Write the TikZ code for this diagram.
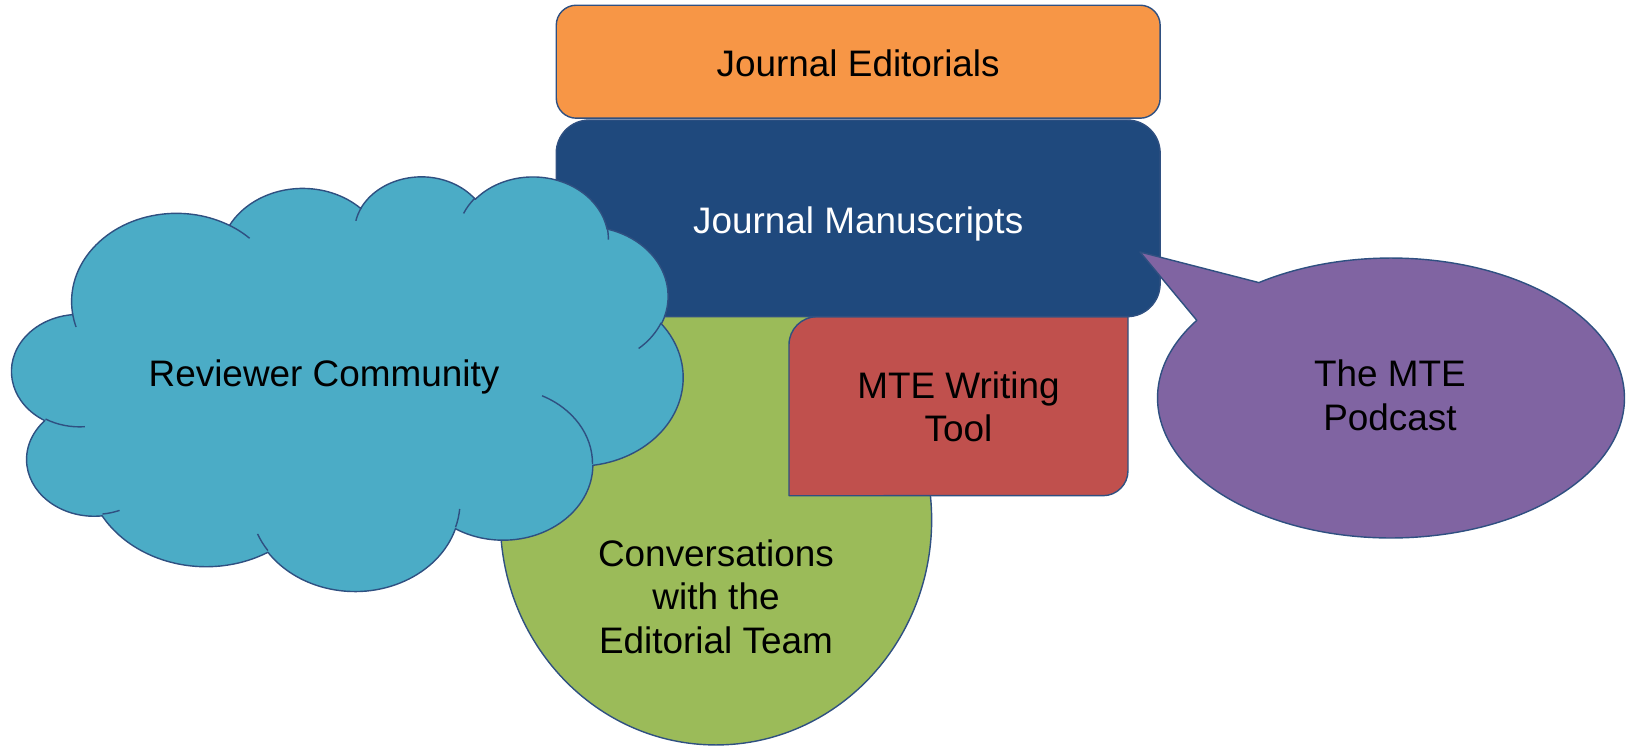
\documentclass[tikz,border=0pt]{standalone}
\usepackage{fontspec}
\setmainfont{Liberation Sans}
\definecolor{edge}{HTML}{2F5081}
\definecolor{editorialorange}{HTML}{F79646}
\definecolor{manuscriptblue}{HTML}{1F497D}
\definecolor{reviewerblue}{HTML}{4BACC6}
\definecolor{talkgreen}{HTML}{9BBB59}
\definecolor{toolred}{HTML}{C0504D}
\definecolor{podpurple}{HTML}{8064A2}

\begin{document}
\begin{tikzpicture}[x=0.02cm, y=-0.02cm,
    outline/.style={draw=edge, line width=0.8pt, line join=round},
    caption/.style={font=\fontsize{21}{24.7}\selectfont, align=center, anchor=base, inner sep=0pt},
    block/.style={outline, font=\fontsize{21}{24.7}\selectfont, text height=17pt, text depth=0pt, minimum width=12.08cm}]

  \useasboundingbox (0,0) rectangle (1634,747);

  % Conversations
  \coordinate (talkc) at (716,520);
  \draw[outline, fill=talkgreen] (talkc) ellipse [x radius=4.314cm, y radius=4.5cm];
  \node[caption] (talks) at (716,653) {Conversations\\with the\\Editorial Team};

  % MTE Writing Tool
  \draw[outline, fill=toolred] (789,495.7) -- (789,344.7)
    arc[start angle=180, end angle=90, radius=0.56cm] -- (1128,316.7) -- (1128,470.7)
    arc[start angle=0, end angle=-90, radius=0.5cm] -- cycle;
  \node[caption] (writing) at (958.5,441.7) {MTE Writing\\Tool};

  % Journal
  \node[block, fill=editorialorange, rounded corners=0.4cm, minimum height=2.26cm]
    (editorials) at (858.2,61.7) {Journal Editorials};
  \node[block, fill=manuscriptblue, text=white, rounded corners=0.66cm, minimum height=3.934cm]
    (manuscripts) at (858.2,218.35) {Journal Manuscripts};

  % Reviewer cloud
  \begin{scope}[shift={(12,175.5)}, x=0.0310648cm, y=0.0191898cm]
    \draw[outline, fill=reviewerblue] (39.00,-143.70)
      \foreach \wr/\hr/\st/\sw [evaluate={\st as \ta using atan2(\wr*sin(\st),\hr*cos(\st))},
          evaluate={\sw as \tb using \ta+mod(atan2(\wr*sin(\st+\sw),\hr*cos(\st+\sw))-(\ta)+720,360)}]
        in {67.53/91.90/-190.4875/123.7805, 53.33/72.67/-144.1024/89.9452,
            43.65/59.45/-145.8079/99.7230, 48.57/65.95/-130.9861/117.2417,
            53.33/72.73/-78.7089/109.0269, 67.75/92.20/-46.2673/130.2690,
            57.85/78.67/0.6250/114.0333, 67.52/92.15/22.4516/115.1726,
            77.20/105.43/66.2426/75.7110, 43.60/59.18/-274.9421/146.7356,
            43.45/59.45/-246.8285/152.5189}
      { arc[start angle=-(\ta), end angle=-(\tb), x radius=\wr*0.0310648cm, y radius=\hr*0.0191898cm] }
      -- cycle;
    \foreach \px/\py/\wr/\hr/\st/\sw [evaluate={\st as \ta using atan2(\wr*sin(\st),\hr*cos(\st))},
        evaluate={\sw as \tb using \ta+mod(atan2(\wr*sin(\st+\sw),\hr*cos(\st+\sw))-(\ta)+720,360)}]
      in {46.93/261.77/43.45/59.45/86.742/26.4295, 69.28/348.99/43.60/59.18/73.6105/11.4475,
          164.78/390.90/67.52/92.15/137.6242/14.0811, 288.27/347.51/67.52/92.15/6.4533/15.9984,
          341.29/229.54/57.85/78.67/-70.2924/70.9174, 417.98/153.54/53.33/72.73/30.3180/27.7515,
          383.24/54.26/48.57/65.95/-13.7443/14.8589, 290.78/39.52/48.57/65.95/-149.1815/18.1954,
          221.41/47.20/43.65/59.45/-163.4943/17.6864, 140.00/51.92/67.53/91.90/-66.7070/12.3194,
          41.27/157.89/67.53/91.90/157.6544/11.8582}
      \draw[outline] (\px,-\py) arc[start angle=-(\ta), end angle=-(\tb), x radius=\wr*0.0310648cm, y radius=\hr*0.0191898cm];
  \end{scope}
  \node[caption] (reviewers) at (324,386.7) {Reviewer Community};

  % The MTE Podcast
  \coordinate (podc) at (1391,398);
  \coordinate (podtip) at (1140,252);
  \draw[outline, fill=podpurple] ([shift={(124.46:4.67cm and 2.8cm)}]podc) -- (podtip)
    -- ([shift={(146.3:4.67cm and 2.8cm)}]podc)
    arc[start angle=146.3, end angle=484.46, x radius=4.67cm, y radius=2.8cm] -- cycle;
  \node[caption] (podcast) at (1390,430) {The MTE\\Podcast};

\end{tikzpicture}
\end{document}
